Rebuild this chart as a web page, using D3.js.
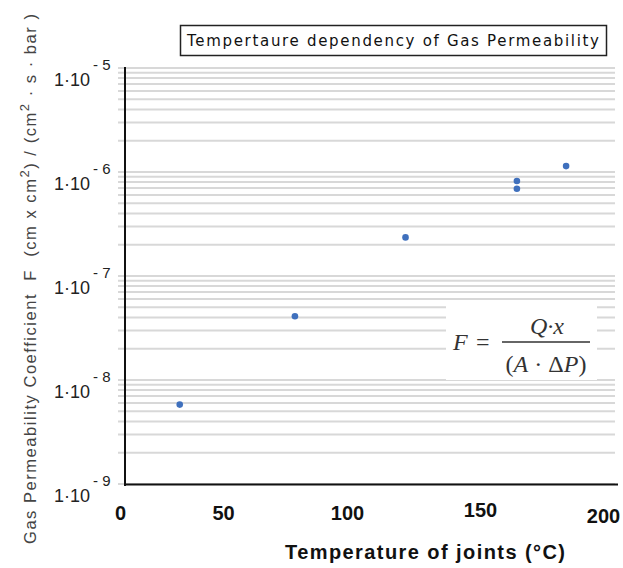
<!DOCTYPE html>
<html lang="en">
    <head>
        <meta charset="UTF-8" />
        <title>Temperature dependency of Gas Permeability</title>
        <style>
            body { margin: 0; background: #fff; }
            svg { display: block; }
            text { white-space: pre; }
        </style>
    </head>
    <body>
        <script src="https://cdn.jsdelivr.net/npm/d3@7"></script>
        <div id="app"></div>
        <script>
        //DATOS
            const temps = [29, 79, 122, 165, 165, 185];
            const permeability = [5.8e-9, 4.1e-8, 2.35e-7, 8.2e-7, 6.9e-7, 1.14e-6];
            const xTicks = [0, 50, 100, 150, 200];
            const yDecades = [-9, -8, -7, -6, -5];
            const chartTitle = "Tempertaure dependency of Gas Permeability";
            const xTitle = "Temperature of joints (°C)";

        //SVG
            const w = 623;
            const h = 568;

            const svg = d3.select("#app")
                .append("svg")
                .attr("width", w)
                .attr("height", h);

        //Escalas
            // the tick labels of the original are not evenly spaced, so the scale is piecewise
            const xScale = d3.scaleLinear()
                .domain(xTicks)
                .range([120, 223, 347, 480, 603]);

            const yScale = d3.scaleLog()
                .domain([1e-9, 1e-5])
                .range([484, 68]);

        //GRID
            const gridVals = [];
            yDecades.slice(0, -1).forEach(d => {
                for (let k = 1; k <= 9; k++) gridVals.push(k * Math.pow(10, d));
            });
            gridVals.push(1e-5);

            svg.append("g")
                .selectAll("line")
                .data(gridVals)
                .enter()
                .append("line")
                .attr("x1", 118)
                .attr("x2", 615)
                .attr("y1", d => yScale(d))
                .attr("y2", d => yScale(d))
                .attr("stroke", "#d8d8d8")
                .attr("stroke-width", 2);

        //FORMULA (tapa la rejilla)
            svg.append("rect")
                .attr("x", 446).attr("y", 304)
                .attr("width", 151).attr("height", 76)
                .attr("fill", "#fff");

            const fm = svg.append("g")
                .attr("fill", "#333")
                .style("font-family", "'Liberation Serif', serif")
                .style("font-size", "24px")
                .style("font-style", "italic");
            fm.append("text").attr("x", 453).attr("y", 350).text("F");
            fm.append("text").attr("x", 476).attr("y", 350).style("font-style", "normal").text("=");
            fm.append("line")
                .attr("x1", 502).attr("x2", 590)
                .attr("y1", 342).attr("y2", 342)
                .attr("stroke", "#333").attr("stroke-width", 1.6);
            fm.append("text").attr("x", 547).attr("y", 334).attr("text-anchor", "middle").text("Q·x");
            const den = fm.append("text").attr("x", 546).attr("y", 372).attr("text-anchor", "middle");
            den.append("tspan").style("font-style", "normal").text("(");
            den.append("tspan").text("A");
            den.append("tspan").style("font-style", "normal").text(" · Δ");
            den.append("tspan").text("P");
            den.append("tspan").style("font-style", "normal").text(")");

        //AXIS
            const xAxis = d3.axisBottom(xScale)
                .tickValues(xTicks)
                .tickSize(0)
                .tickPadding(0);

            const gx = svg.append("g")
                .attr("id", "x-axis")
                .attr("transform", "translate(0,520)")
                .call(xAxis);
            gx.select(".domain").remove();
            gx.selectAll("text")
                .attr("dy", 0)
                .attr("y", d => d === 150 ? -3 : d === 200 ? 3 : 0)
                .attr("fill", "#111")
                .style("font-family", "'Liberation Sans', Arial, sans-serif")
                .style("font-size", "20px")
                .style("font-weight", "bold");

            svg.append("line")
                .attr("x1", 124).attr("x2", 618)
                .attr("y1", 484.5).attr("y2", 484.5)
                .attr("stroke", "#111").attr("stroke-width", 2);
            svg.append("line")
                .attr("x1", 125).attr("x2", 125)
                .attr("y1", 67).attr("y2", 486)
                .attr("stroke", "#111").attr("stroke-width", 2);

            const yAxis = d3.axisLeft(yScale)
                .tickValues(yDecades.map(d => Math.pow(10, d)))
                .tickSize(0)
                .tickFormat("");
            const gy = svg.append("g")
                .attr("id", "y-axis")
                .attr("transform", "translate(90,0)")
                .call(yAxis);
            gy.select(".domain").remove();
            gy.selectAll(".tick").each(function (d) {
                const t = d3.select(this);
                const e = Math.round(Math.log10(d));
                t.append("text")
                    .attr("x", 0).attr("y", 17)
                    .attr("text-anchor", "end")
                    .attr("fill", "#222")
                    .style("font-family", "'Liberation Sans', Arial, sans-serif")
                    .style("font-size", "18px")
                    .text("1·10");
                t.append("text")
                    .attr("x", 3).attr("y", 1)
                    .attr("text-anchor", "start")
                    .attr("fill", "#222")
                    .style("font-family", "'Liberation Sans', Arial, sans-serif")
                    .style("font-size", "15px")
                    .text("- " + Math.abs(e));
            });

        //PUNTOS
            svg.selectAll("circle")
                .data(temps)
                .enter()
                .append("circle")
                .attr("cx", d => xScale(d))
                .attr("cy", (d, i) => yScale(permeability[i]))
                .attr("r", 3.3)
                .attr("fill", "#3f70bd");

        //TITULO
            svg.append("rect")
                .attr("x", 180.5).attr("y", 25.5)
                .attr("width", 426).attr("height", 30)
                .attr("fill", "#fff")
                .attr("stroke", "#222").attr("stroke-width", 1.5);
            svg.append("text")
                .attr("x", 393).attr("y", 46)
                .attr("text-anchor", "middle")
                .attr("textLength", 412)
                .attr("lengthAdjust", "spacing")
                .attr("fill", "#111")
                .style("font-family", "'DejaVu Sans', Verdana, sans-serif")
                .style("font-size", "15px")
                .text(chartTitle);

        //ETIQUETAS
            svg.append("text")
                .attr("x", 425).attr("y", 559)
                .attr("text-anchor", "middle")
                .attr("textLength", 280)
                .attr("lengthAdjust", "spacing")
                .attr("fill", "#111")
                .style("font-family", "'Liberation Sans', Arial, sans-serif")
                .style("font-size", "20px")
                .style("font-weight", "bold")
                .text(xTitle);

            const yt = svg.append("text")
                .attr("transform", "translate(36,279) rotate(-90)")
                .attr("text-anchor", "middle")
                .attr("textLength", 530)
                .attr("lengthAdjust", "spacing")
                .attr("fill", "#444")
                .style("font-family", "'Liberation Sans', Arial, sans-serif")
                .style("font-size", "16.5px");
            yt.append("tspan").text("Gas Permeability Coefficient  F  (cm x cm");
            yt.append("tspan").attr("dy", -7).style("font-size", "13px").text("2");
            yt.append("tspan").attr("dy", 7).text(") / (cm");
            yt.append("tspan").attr("dy", -7).style("font-size", "13px").text("2");
            yt.append("tspan").attr("dy", 7).text(" · s · bar )");
        </script>
    </body>
</html>
